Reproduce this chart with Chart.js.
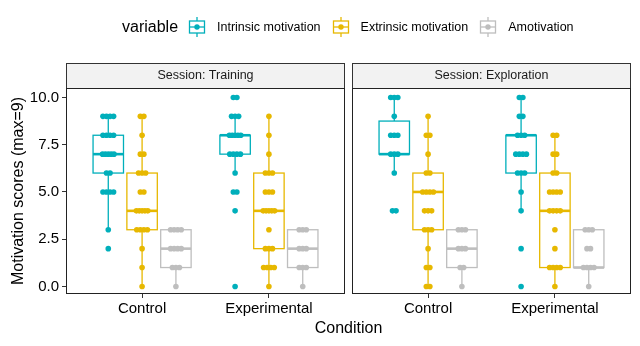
<!DOCTYPE html>
<html lang="en">
<head>
<meta charset="UTF-8">
<title>Motivation scores</title>
<script src="https://cdn.jsdelivr.net/npm/chart.js"></script>
<style>
    body { margin: 0; background: #fff; font-family: "Liberation Sans", Arial, sans-serif; }
    #wrap { position: relative; width: 640px; height: 346px; }
    #chart { position: absolute; left: 0; top: 0; }
    #legend { position: absolute; left: 122px; top: 17px; height: 20px; display: flex; align-items: center; white-space: nowrap; }
    #legend .ttl { font-size: 16px; margin-right: 10px; }
    #legend .lab { font-size: 12.5px; margin: 0 11px 0 11px; }
    #legend svg { display: block; }
</style>
</head>
<body>
<div id="wrap">
    <canvas id="chart" width="640" height="346"></canvas>
    <div id="legend"></div>
</div>

<script>
    // categories
    const sessions = ['Training', 'Exploration']
    const conditions = ['Control', 'Experimental']
    const variables = ['Intrinsic motivation', 'Extrinsic motivation', 'Amotivation']
    const colors = ['#00AFBB', '#E7B800', '#BEBEBE']
    const yTicks = [0, 2.5, 5, 7.5, 10]

    // individual scores, [Control, Experimental]
    const trainingIntrinsic = [
        [9, 9, 9, 9, 8, 8, 8, 8, 7, 7, 7, 7, 7, 6, 6, 5, 5, 5, 5, 3, 2],
        [10, 10, 9, 9, 9, 8, 8, 8, 8, 8, 7, 7, 7, 7, 6, 5, 5, 4, 0]
    ]
    const trainingExtrinsic = [
        [9, 9, 8, 7, 7, 6, 6, 6, 5, 5, 4, 4, 4, 4, 4, 3, 3, 3, 3, 2, 1, 0],
        [9, 8, 7, 6, 6, 6, 5, 5, 5, 4, 4, 4, 4, 4, 3, 2, 2, 2, 1, 1, 1, 1, 0]
    ]
    const trainingAmotivation = [
        [3, 3, 3, 3, 2, 2, 2, 2, 1, 1, 1, 0],
        [3, 3, 3, 2, 2, 2, 1, 1, 1, 0]
    ]
    const explorationIntrinsic = [
        [10, 10, 10, 9, 8, 8, 8, 7, 7, 7, 6, 4, 4],
        [10, 10, 9, 9, 8, 8, 8, 7, 7, 7, 7, 6, 6, 6, 5, 4, 2, 0]
    ]
    const explorationExtrinsic = [
        [9, 8, 8, 7, 6, 6, 5, 5, 5, 5, 4, 4, 4, 3, 3, 3, 2, 1, 1, 0, 0],
        [8, 8, 7, 7, 6, 6, 5, 5, 5, 5, 4, 4, 4, 4, 3, 2, 1, 1, 1, 1, 0]
    ]
    const explorationAmotivation = [
        [3, 3, 3, 2, 2, 2, 1, 1, 0],
        [3, 3, 3, 2, 2, 1, 1, 1, 1, 0]
    ]

    // box stats [lower whisker, Q1, median, Q3, upper whisker], [Control, Experimental]
    const trainingIntrinsicBox = [[3, 6, 7, 8, 9], [6, 7, 8, 8, 9]]
    const trainingExtrinsicBox = [[0, 3, 4, 6, 9], [0, 2, 4, 6, 9]]
    const trainingAmotivationBox = [[0, 1, 2, 3, 3], [0, 1, 2, 3, 3]]
    const explorationIntrinsicBox = [[6, 7, 7, 8.75, 10], [4, 6, 8, 8, 10]]
    const explorationExtrinsicBox = [[0, 3, 5, 6, 9], [0, 1, 4, 6, 8]]
    const explorationAmotivationBox = [[0, 1, 2, 3, 3], [0, 1, 1, 3, 3]]

    const points = [
        [trainingIntrinsic, trainingExtrinsic, trainingAmotivation],
        [explorationIntrinsic, explorationExtrinsic, explorationAmotivation]
    ]
    const boxes = [
        [trainingIntrinsicBox, trainingExtrinsicBox, trainingAmotivationBox],
        [explorationIntrinsicBox, explorationExtrinsicBox, explorationAmotivationBox]
    ]

    // layout in x units (one category = 1)
    const X_MIN = 0.4
    const PANEL_SPAN = 2.2
    const GAP = 0.055
    const X_MAX = X_MIN + 2 * PANEL_SPAN + GAP
    const DODGE = 0.8 / 3
    const BOX_W = 0.24

    function xPos(s, c, v) {
        return s * (PANEL_SPAN + GAP) + (c + 1) + (v - 1) * DODGE
    }

    // spread equal values side by side
    function spread(values) {
        let counts = {}
        values.forEach(v => counts[v] = (counts[v] || 0) + 1)
        let seen = {}
        return values.map(v => {
            let n = counts[v]
            let k = seen[v] = (seen[v] === undefined ? 0 : seen[v] + 1)
            if (n < 2) return 0
            let w = Math.min(0.045, 0.014 * (n - 1))
            return -w + 2 * w * k / (n - 1)
        })
    }

    function buildDataset(v) {
        let data = []
        for (let s = 0; s < sessions.length; s++) {
            for (let c = 0; c < conditions.length; c++) {
                let vals = points[s][v][c]
                let offs = spread(vals)
                vals.forEach((y, i) => data.push({ x: xPos(s, c, v) + offs[i], y: y }))
            }
        }
        return {
            label: variables[v],
            data: data,
            pointRadius: 2.8,
            pointBackgroundColor: colors[v],
            pointBorderWidth: 0,
            borderColor: colors[v]
        }
    }

    const panelPlugin = {
        id: 'panels',
        beforeDatasetsDraw(chart) {
            const ctx = chart.ctx
            const xs = chart.scales.x, ys = chart.scales.y
            ctx.save()
            for (let s = 0; s < 2; s++) {
                for (let v = 0; v < 3; v++) {
                    for (let c = 0; c < 2; c++) {
                        const [lo, q1, med, q3, hi] = boxes[s][v][c]
                        const cx = xPos(s, c, v)
                        const xl = xs.getPixelForValue(cx - BOX_W / 2)
                        const xr = xs.getPixelForValue(cx + BOX_W / 2)
                        const xm = xs.getPixelForValue(cx)
                        ctx.strokeStyle = colors[v]
                        ctx.lineWidth = 1.3
                        ctx.beginPath()
                        ctx.moveTo(xm, ys.getPixelForValue(lo))
                        ctx.lineTo(xm, ys.getPixelForValue(q1))
                        ctx.moveTo(xm, ys.getPixelForValue(q3))
                        ctx.lineTo(xm, ys.getPixelForValue(hi))
                        ctx.stroke()
                        ctx.strokeRect(xl, ys.getPixelForValue(q3), xr - xl, ys.getPixelForValue(q1) - ys.getPixelForValue(q3))
                        ctx.lineWidth = 2.6
                        ctx.beginPath()
                        ctx.moveTo(xl, ys.getPixelForValue(med))
                        ctx.lineTo(xr, ys.getPixelForValue(med))
                        ctx.stroke()
                    }
                }
            }
            ctx.restore()
        },
        afterDraw(chart) {
            const ctx = chart.ctx
            const xs = chart.scales.x
            const area = chart.chartArea
            ctx.save()
            for (let s = 0; s < 2; s++) {
                const l = Math.round(xs.getPixelForValue(X_MIN + s * (PANEL_SPAN + GAP))) + 0.5
                const r = Math.round(xs.getPixelForValue(X_MIN + PANEL_SPAN + s * (PANEL_SPAN + GAP))) - 0.5
                const t = Math.round(area.top) + 0.5
                const b = Math.round(area.bottom) - 0.5
                // strip
                ctx.fillStyle = '#F2F2F2'
                ctx.fillRect(l, t - 25, r - l, 25)
                ctx.strokeStyle = '#333'
                ctx.lineWidth = 1
                ctx.strokeRect(l, t - 25, r - l, 25)
                ctx.fillStyle = '#1a1a1a'
                ctx.font = '12.5px "Liberation Sans", Arial, sans-serif'
                ctx.textAlign = 'center'
                ctx.textBaseline = 'middle'
                ctx.fillText('Session: ' + sessions[s], (l + r) / 2, t - 12.5)
                // panel border
                ctx.strokeStyle = '#222'
                ctx.strokeRect(l, t, r - l, b - t)
            }
            ctx.restore()
        }
    }

    const tickFont = { family: '"Liberation Sans", Arial, sans-serif', size: 15 }
    const titleFont = { family: '"Liberation Sans", Arial, sans-serif', size: 16 }

    const chart = new Chart(document.getElementById('chart'), {
        type: 'scatter',
        data: { datasets: variables.map((_, v) => buildDataset(v)) },
        options: {
            responsive: false,
            animation: false,
            events: [],
            layout: { padding: { top: 88, left: 0, right: 9, bottom: 0 } },
            plugins: { legend: { display: false }, tooltip: { enabled: false } },
            scales: {
                x: {
                    type: 'linear',
                    min: X_MIN,
                    max: X_MAX,
                    afterBuildTicks: (scale) => {
                        scale.ticks = [xPos(0, 0, 1), xPos(0, 1, 1), xPos(1, 0, 1), xPos(1, 1, 1)].map(v => ({ value: v }))
                    },
                    afterFit: (scale) => { scale.height = 52 },
                    ticks: {
                        callback: (val, i) => conditions[i % 2],
                        color: '#000',
                        font: tickFont,
                        padding: 2,
                        maxRotation: 0,
                        autoSkip: false
                    },
                    grid: { drawOnChartArea: false, drawTicks: true, tickLength: 4, color: '#333' },
                    border: { display: false },
                    title: { display: true, text: 'Condition', color: '#000', font: titleFont, padding: { top: 0, bottom: 8 } }
                },
                y: {
                    min: -0.4,
                    max: 10.5,
                    afterBuildTicks: (scale) => { scale.ticks = yTicks.map(v => ({ value: v })) },
                    afterFit: (scale) => { scale.width = 66 },
                    ticks: {
                        callback: (val) => val.toFixed(1),
                        color: '#000',
                        font: tickFont,
                        padding: 3
                    },
                    grid: { drawOnChartArea: false, drawTicks: true, tickLength: 4, color: '#333' },
                    border: { display: false },
                    title: { display: true, text: 'Motivation scores (max=9)', color: '#000', font: titleFont, padding: { top: 9, bottom: 0 } }
                }
            }
        },
        plugins: [panelPlugin]
    })

    // legend
    const legend = document.getElementById('legend')
    let html = '<span class="ttl">variable</span>'
    variables.forEach((name, v) => {
        const col = colors[v]
        html += '<svg width="18" height="20" viewBox="0 0 18 20">' +
            '<line x1="9" y1="0" x2="9" y2="20" stroke="' + col + '" stroke-width="1.3"/>' +
            '<rect x="1.5" y="4" width="15" height="12" fill="#fff" stroke="' + col + '" stroke-width="1.3"/>' +
            '<line x1="1.5" y1="10" x2="16.5" y2="10" stroke="' + col + '" stroke-width="1.3"/>' +
            '<circle cx="9" cy="10" r="2.7" fill="' + col + '"/></svg>' +
            '<span class="lab">' + name + '</span>'
    })
    legend.innerHTML = html
</script>
</body>
</html>
